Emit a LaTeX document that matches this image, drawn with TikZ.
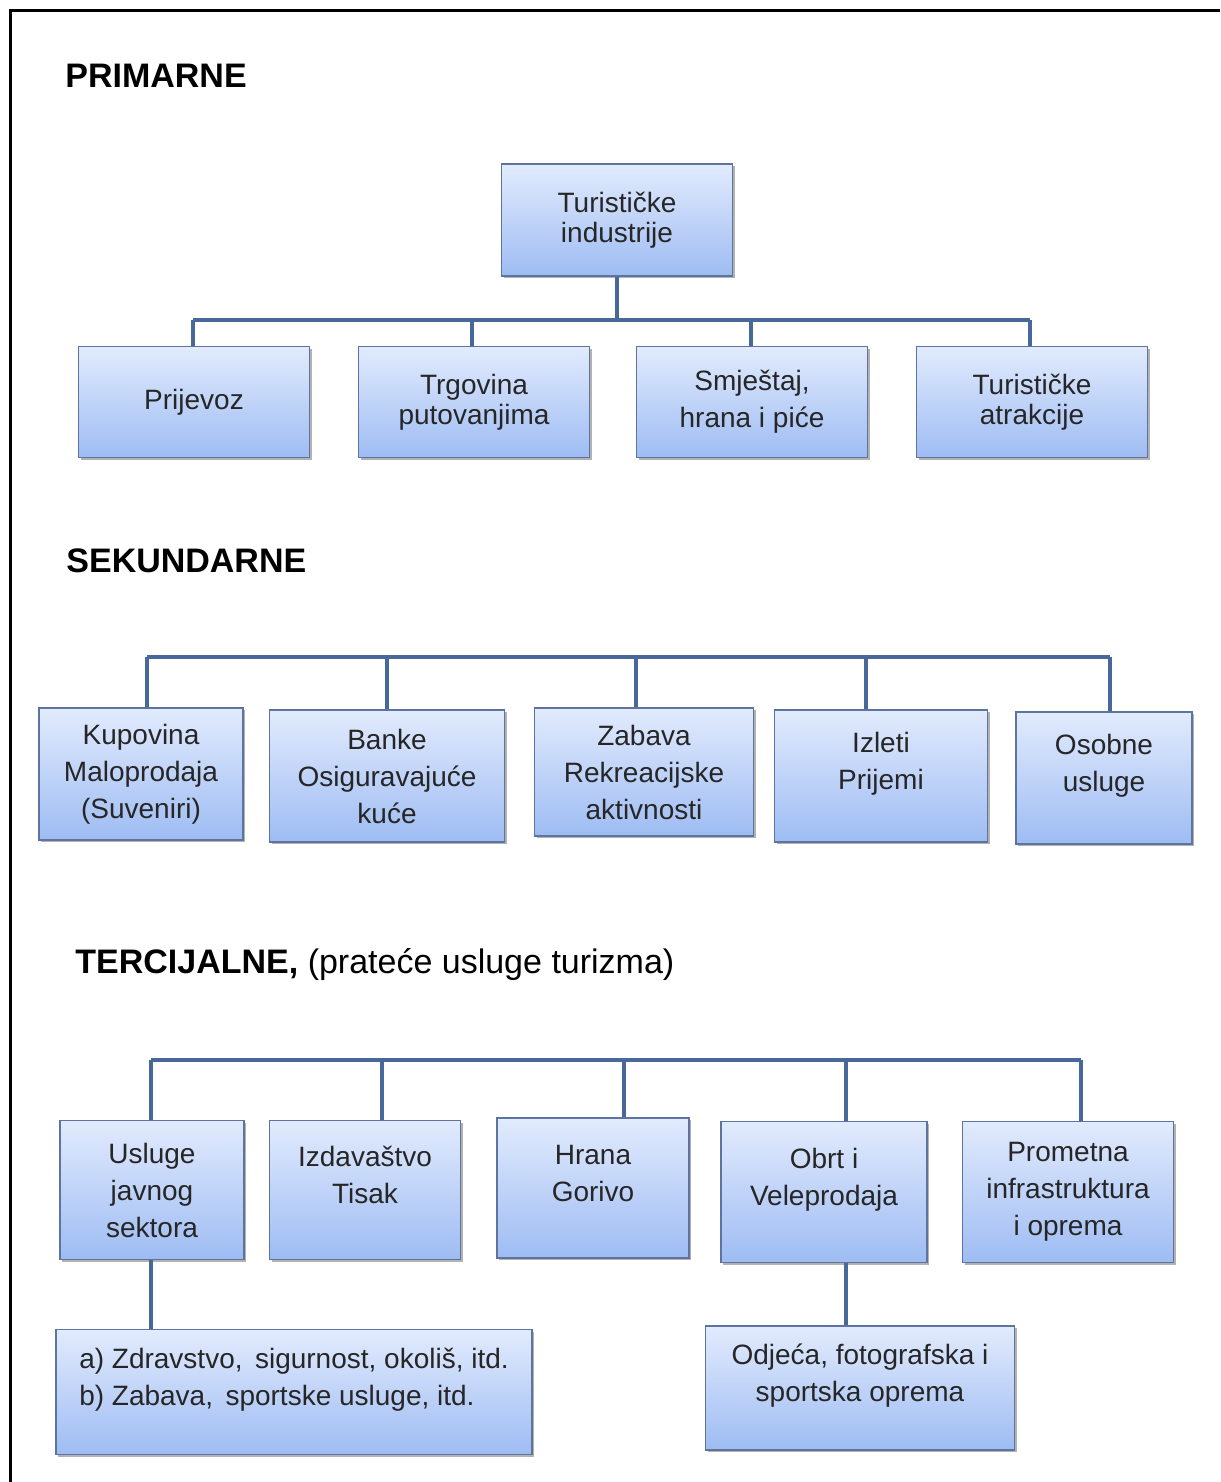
\documentclass[tikz,border=0pt]{standalone}
\usepackage{fontspec}
\setmainfont{Liberation Sans}
\usetikzlibrary{shadows}
\definecolor{boxtop}{RGB}{226,235,253}
\definecolor{boxbottom}{RGB}{158,188,243}
\definecolor{boxedge}{RGB}{92,116,158}
\definecolor{linkcol}{RGB}{72,104,156}

\begin{document}
\begin{tikzpicture}[x=0.5pt, y=-0.5pt,
    box/.style={draw=boxedge, line width=0.7pt, top color=boxtop, bottom color=boxbottom,
      drop shadow={shadow xshift=1.2pt, shadow yshift=-1.2pt, opacity=0.3, fill=black},
      align=center, inner sep=0pt, text=black!85, font=\fontsize{14}{18.5}\selectfont},
    boxdim/.style 2 args={minimum width=#1*0.5pt, minimum height=#2*0.5pt},
    tight/.style={font=\fontsize{14}{15}\selectfont},
    link/.style={draw=linkcol, line width=1.7pt},
    heading/.style={anchor=base west, inner sep=0pt, font=\fontsize{17}{20}\selectfont\bfseries}]
    \useasboundingbox (0,0) rectangle (1220,1482);
    % Frame
    \draw[line width=1.5pt] (10,1482) -- (10,10.5) -- (1220,10.5);

    % Primarne
    \node[heading] (hprim) at (65,88) {PRIMARNE};
    \node[box, boxdim={231}{112}, tight] (industrije) at (617,220) {Turističke\\industrije};
    \node[box, boxdim={231}{111}] (prijevoz) at (194,402) {Prijevoz};
    \node[box, boxdim={231}{111}, tight] (trgovina) at (474,402) {Trgovina\\putovanjima};
    \node[box, boxdim={231}{111}] (smjestaj) at (752,402) {Smještaj,\\hrana i piće};
    \node[box, boxdim={231}{111}, tight] (atrakcije) at (1032,402) {Turističke\\atrakcije};
    \coordinate (pbus) at (617,320);
    \coordinate (p1) at (193,320);
    \coordinate (p2) at (472,320);
    \coordinate (p3) at (751,320);
    \coordinate (p4) at (1030,320);
    \draw[link] (industrije.south) -- (pbus);
    \draw[link] (p1) -- (p4);
    \foreach \c/\n in {p1/prijevoz, p2/trgovina, p3/smjestaj, p4/atrakcije}
        \draw[link] (\c) -- (\c |- \n.north);

    % Sekundarne
    \node[heading] (hsek) at (66,572) {SEKUNDARNE};
    \node[box, boxdim={204}{132}] (kupovina) at (141,774) {Kupovina\\Maloprodaja\\(Suveniri)};
    \node[box, boxdim={235}{132}] (banke) at (387,776) {Banke\\Osiguravajuće\\kuće};
    \node[box, boxdim={219}{128}] (zabava) at (644,772) {Zabava\\Rekreacijske\\aktivnosti};
    \node[box, boxdim={213}{132}] (izleti) at (881,776) {Izleti\\Prijemi\\[-9pt]\strut};
    \node[box, boxdim={176}{132}] (osobne) at (1104,778) {Osobne\\usluge\\[-9pt]\strut};
    \coordinate (s1) at (147,657);
    \coordinate (s2) at (387,657);
    \coordinate (s3) at (636,657);
    \coordinate (s4) at (866,657);
    \coordinate (s5) at (1110,657);
    \draw[link] (s1) -- (s5);
    \foreach \c/\n in {s1/kupovina, s2/banke, s3/zabava, s4/izleti, s5/osobne}
        \draw[link] (\c) -- (\c |- \n.north);

    % Tercijalne
    \node[heading, font=\fontsize{17}{20}\selectfont] (hter) at (75,973)
        {\textbf{TERCIJALNE,} (prateće usluge turizma)};
    \node[box, boxdim={184}{139}] (usluge) at (152,1190) {Usluge\\javnog\\sektora};
    \node[box, boxdim={191}{139}] (izdavastvo) at (365,1190) {Izdavaštvo\\Tisak\\[-9pt]\strut};
    \node[box, boxdim={192}{140}] (hrana) at (593,1188) {Hrana\\Gorivo\\[-9pt]\strut};
    \node[box, boxdim={206}{141}] (obrt) at (824,1192) {Obrt i\\Veleprodaja\\[-9pt]\strut};
    \node[box, boxdim={211}{141}] (prometna) at (1068,1192) {Prometna\\infrastruktura\\i oprema};
    \node[box, boxdim={476}{125}, align=left] (javni) at (294,1392)
        {a) Zdravstvo,\, sigurnost, okoliš, itd.\\b) Zabava,\, sportske usluge, itd.\\[-9pt]\strut};
    \node[box, boxdim={309}{124}] (odjeca) at (860,1388) {Odjeća, fotografska i\\sportska oprema\\[-9pt]\strut};
    \coordinate (t1) at (151,1060);
    \coordinate (t2) at (382,1060);
    \coordinate (t3) at (624,1060);
    \coordinate (t4) at (846,1060);
    \coordinate (t5) at (1081,1060);
    \draw[link] (t1) -- (t5);
    \foreach \c/\n in {t1/usluge, t2/izdavastvo, t3/hrana, t4/obrt, t5/prometna}
        \draw[link] (\c) -- (\c |- \n.north);
    \draw[link] (t1 |- usluge.south) -- (t1 |- javni.north);
    \draw[link] (t4 |- obrt.south) -- (t4 |- odjeca.north);
\end{tikzpicture}
\end{document}
